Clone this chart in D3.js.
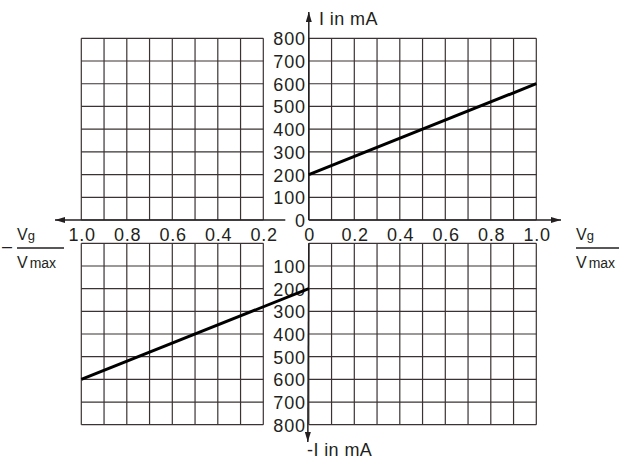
<!DOCTYPE html>
<html>
<head>
<meta charset="utf-8">
<script src="https://cdn.jsdelivr.net/npm/d3@7"></script>
<style>
    body { margin: 0; background: #fff; }
    text { font-family: "Liberation Sans", Arial, sans-serif; fill: #231f20; }
</style>
</head>
<body>
<div id="chartArea"></div>
<script>
// Grid positions (fraction of Vmax) and current ticks (mA)
let gridLeft = [-1.0, -0.9, -0.8, -0.7, -0.6, -0.5, -0.4, -0.3, -0.2];
let gridRight = [0, 0.1, 0.2, 0.3, 0.4, 0.5, 0.6, 0.7, 0.8, 0.9, 1.0];
let xTicks = [-1.0, -0.8, -0.6, -0.4, -0.2, 0, 0.2, 0.4, 0.6, 0.8, 1.0];
let iTicks = [0, 100, 200, 300, 400, 500, 600, 700, 800];
let iTicksLower = [100, 200, 300, 400, 500, 600, 700, 800];

// The two characteristic lines
let upperLine = [{ v: 0, i: 200 }, { v: 1.0, i: 600 }];
let lowerLine = [{ v: -1.0, i: 600 }, { v: 0, i: 200 }];

function drawGraph() {
    let width = 619, height = 462;
    let ink = '#231f20', gridInk = '#3a3233';

    let svg = d3.select('#chartArea')
        .append('svg')
            .attr('width', width)
            .attr('height', height);

    let defs = svg.append('defs');
    defs.append('marker')
        .attr('id', 'arrow')
        .attr('viewBox', '0 0 10 6')
        .attr('refX', 10)
        .attr('refY', 3)
        .attr('markerWidth', 10)
        .attr('markerHeight', 6)
        .attr('markerUnits', 'userSpaceOnUse')
        .attr('orient', 'auto')
        .append('path')
            .attr('d', 'M0,0 L10,3 L0,6 Z')
            .attr('fill', ink);

    let xScale = d3.scaleLinear().domain([-1, 1]).range([81.3, 536.3]);
    let yTop = d3.scaleLinear().domain([0, 800]).range([220, 38.3]);
    let yBot = d3.scaleLinear().domain([0, 800]).range([243.3, 424.7]);

    let x0 = xScale(0);

    // grid blocks
    function grid(cols, yScale) {
        let g = svg.append('g')
            .attr('stroke', gridInk)
            .attr('stroke-width', 1.2);
        g.selectAll('line.v').data(cols).enter().append('line')
            .attr('x1', d => xScale(d)).attr('x2', d => xScale(d))
            .attr('y1', yScale(0)).attr('y2', yScale(800));
        g.selectAll('line.h').data(iTicks).enter().append('line')
            .attr('x1', xScale(cols[0])).attr('x2', xScale(cols[cols.length - 1]))
            .attr('y1', d => yScale(d)).attr('y2', d => yScale(d));
    }
    grid(gridLeft, yTop);
    grid(gridRight, yTop);
    grid(gridLeft, yBot);
    grid(gridRight, yBot);

    // axes lines with arrows
    let axes = svg.append('g').attr('stroke', ink).attr('stroke-width', 1.5);
    axes.append('line')
        .attr('x1', x0).attr('y1', yTop(0))
        .attr('x2', x0).attr('y2', 12)
        .attr('marker-end', 'url(#arrow)');
    axes.append('line')
        .attr('x1', x0).attr('y1', yBot(0))
        .attr('x2', x0 - 1).attr('y2', 442)
        .attr('marker-end', 'url(#arrow)');
    axes.append('line')
        .attr('x1', xScale(-0.2) + 22).attr('y1', yTop(0))
        .attr('x2', 55).attr('y2', yTop(0))
        .attr('marker-end', 'url(#arrow)');
    axes.append('line')
        .attr('x1', x0).attr('y1', yTop(0))
        .attr('x2', 561).attr('y2', yTop(0))
        .attr('marker-end', 'url(#arrow)');

    // tick labels
    let xAxis = svg.append('g')
        .attr('transform', 'translate(0,' + yTop(0) + ')')
        .call(d3.axisBottom(xScale)
            .tickValues(xTicks)
            .tickSize(0)
            .tickPadding(8)
            .tickFormat(d => d === 0 ? '0' : d3.format('.1f')(Math.abs(d))));

    let yAxisTop = svg.append('g')
        .attr('transform', 'translate(' + (x0 - 3) + ',0)')
        .call(d3.axisLeft(yTop).tickValues(iTicks).tickSize(0).tickPadding(0));

    let yAxisBot = svg.append('g')
        .attr('transform', 'translate(' + (x0 - 3) + ',0)')
        .call(d3.axisLeft(yBot).tickValues(iTicksLower).tickSize(0).tickPadding(0));

    [xAxis, yAxisTop, yAxisBot].forEach(a => {
        a.select('.domain').remove();
        a.selectAll('text')
            .attr('fill', ink)
            .style('font-family', '"Liberation Sans", Arial, sans-serif')
            .style('font-size', '18px')
            .style('letter-spacing', '0.8px');
    });
    xAxis.selectAll('text').attr('dx', '0.4px');
    yAxisTop.selectAll('text').attr('dy', '0.36em');
    yAxisBot.selectAll('text').attr('dy', '0.36em');

    // data lines
    let lineTop = d3.line().x(d => xScale(d.v)).y(d => yTop(d.i));
    let lineBot = d3.line().x(d => xScale(d.v)).y(d => yBot(d.i));

    svg.append('path')
        .attr('d', lineTop(upperLine))
        .attr('fill', 'none').attr('stroke', '#000').attr('stroke-width', 3);
    svg.append('path')
        .attr('d', lineBot(lowerLine))
        .attr('fill', 'none').attr('stroke', '#000').attr('stroke-width', 3);

    // axis titles
    svg.append('text')
        .attr('x', 319).attr('y', 25)
        .style('font-size', '18px')
        .style('letter-spacing', '0.4px')
        .text('I in mA');
    svg.append('text')
        .attr('x', 307).attr('y', 456)
        .style('font-size', '18px')
        .style('letter-spacing', '0.4px')
        .text('-I in mA');

    // V_g / V_max fractions
    function fraction(x, barLen, sign) {
        let g = svg.append('g');
        if (sign) {
            g.append('text')
                .attr('x', x - 15).attr('y', 252)
                .style('font-size', '18px')
                .text('\u2013');
        }
        let top = g.append('text').attr('x', x).attr('y', 240);
        top.append('tspan').style('font-size', '16px').text('V');
        top.append('tspan').style('font-size', '13px').text('g');
        g.append('line')
            .attr('x1', x).attr('x2', x + barLen)
            .attr('y1', 248).attr('y2', 248)
            .attr('stroke', ink).attr('stroke-width', 1.3);
        let bot = g.append('text').attr('x', x).attr('y', 268);
        bot.append('tspan').style('font-size', '16px').text('V');
        bot.append('tspan').attr('dx', 2).style('font-size', '14px').text('max');
    }
    fraction(17, 47, true);
    fraction(576, 50, false);
}

drawGraph();
</script>
</body>
</html>
